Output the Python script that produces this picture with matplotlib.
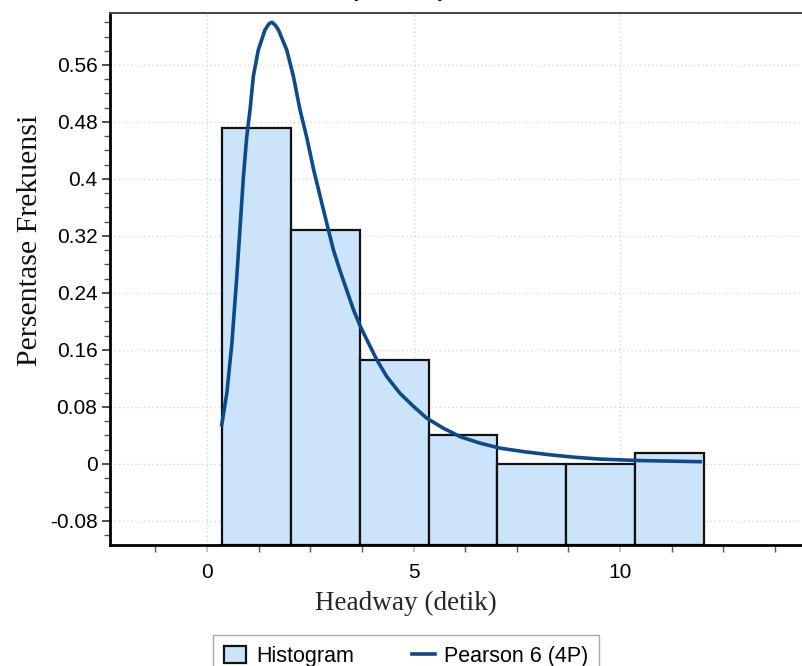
import matplotlib
matplotlib.use('Agg')
import matplotlib.pyplot as plt
from matplotlib.ticker import MultipleLocator, FixedLocator, FuncFormatter

plt.rcParams['font.family'] = 'Liberation Sans'

# histogram of headway (relative frequency per bin)
bin_edges = [0.371, 2.036, 3.700, 5.364, 7.028, 8.692, 10.356, 12.020]
freq = [0.471, 0.328, 0.146, 0.040, 0.0, 0.0, 0.0145]

# fitted Pearson 6 (4P) density, read point by point
pdf_x = [0.356, 0.48, 0.60, 0.72, 0.80, 0.88, 0.96, 1.04, 1.12, 1.24, 1.40, 1.50,
         1.57, 1.65, 1.73, 1.93, 2.09, 2.25, 2.41, 2.58, 2.82, 2.94, 3.06, 3.22,
         3.38, 3.54, 3.71, 3.87, 4.11, 4.35, 4.67, 5.00, 5.32, 5.72, 6.13, 6.61,
         7.09, 7.70, 8.31, 8.90, 9.52, 10.50, 11.94]
pdf_y = [0.055, 0.100, 0.169, 0.263, 0.333, 0.403, 0.459, 0.497, 0.544, 0.581, 0.609, 0.618,
         0.620, 0.616, 0.609, 0.581, 0.544, 0.497, 0.459, 0.413, 0.356, 0.328, 0.300, 0.271,
         0.244, 0.217, 0.193, 0.174, 0.146, 0.1225, 0.099, 0.0805, 0.064, 0.050, 0.038, 0.029,
         0.022, 0.0168, 0.0126, 0.0092, 0.0066, 0.0045, 0.003]

ymin, ymax = -0.114, 0.633
xmin, xmax = -2.35, 14.5

fig = plt.figure(figsize=(8.03, 6.66), dpi=100)
ax = fig.add_axes([110 / 803, 1 - 545 / 666, 696 / 803, 532 / 666])

widths = [b - a for a, b in zip(bin_edges[:-1], bin_edges[1:])]
bars = ax.bar(bin_edges[:-1], [f - ymin for f in freq], width=widths, bottom=ymin,
              align='edge', color='#cce4fa', edgecolor='#111111', linewidth=1.6,
              zorder=2, label='Histogram')
line, = ax.plot(pdf_x, pdf_y, color='#0c4a8c', linewidth=2.6, zorder=3,
                label='Pearson 6 (4P)')

ax.set_xlim(xmin, xmax)
ax.set_ylim(ymin, ymax)

# ticks
ax.yaxis.set_major_locator(FixedLocator([-0.08, 0, 0.08, 0.16, 0.24, 0.32, 0.4, 0.48, 0.56]))
ax.yaxis.set_minor_locator(MultipleLocator(0.02))
ax.yaxis.set_major_formatter(FuncFormatter(lambda v, p: '%g' % round(v, 2)))
ax.xaxis.set_major_locator(FixedLocator([0, 5, 10]))
ax.xaxis.set_minor_locator(MultipleLocator(1.25))
ax.tick_params(axis='y', which='major', direction='out', length=6, width=1.2,
               color='#333333', labelsize=15, pad=3)
ax.tick_params(axis='y', which='minor', direction='out', length=4, width=1, color='#555555')
ax.tick_params(axis='x', which='major', direction='out', length=5, width=1.2,
               color='#bbbbbb', labelsize=15, pad=8)
ax.tick_params(axis='x', which='minor', direction='out', length=5, width=1, color='#555555')

ax.grid(True, which='major', linestyle=(0, (1, 2)), color='#d8d8d8', linewidth=1, zorder=0)
ax.set_axisbelow(True)

for side in ['left', 'bottom']:
    ax.spines[side].set_linewidth(2)
    ax.spines[side].set_color('#000000')
ax.spines['top'].set_linewidth(1.4)
ax.spines['top'].set_color('#444444')
ax.spines['right'].set_visible(False)

# axis titles
fig.text(406 / 803, 1 - 610 / 666, 'Headway (detik)', family='Liberation Serif',
         fontsize=19.5, color='#262626', ha='center', va='baseline')
fig.text(37 / 803, 1 - 240 / 666, 'Persentase Frekuensi', family='Liberation Serif',
         fontsize=21.5, color='#111111', rotation=90, ha='center', va='baseline',
         rotation_mode='anchor')

# chart title, mostly above the top edge
fig.text(401 / 803, 1 + 4 / 666, 'Probability Density Function', fontsize=16.7,
         ha='center', va='baseline')

fig.legend([bars, line], ['Histogram', 'Pearson 6 (4P)'], loc='upper left',
           bbox_to_anchor=(213 / 803, 1 - 635 / 666), ncol=2,
           fontsize=15.5, frameon=True, fancybox=False, edgecolor='#aaaaaa',
           framealpha=1, handlelength=1.05, handleheight=0.8, handletextpad=0.45,
           columnspacing=2.7, borderpad=0.5, borderaxespad=0)

fig.savefig('out.png', dpi=100)
